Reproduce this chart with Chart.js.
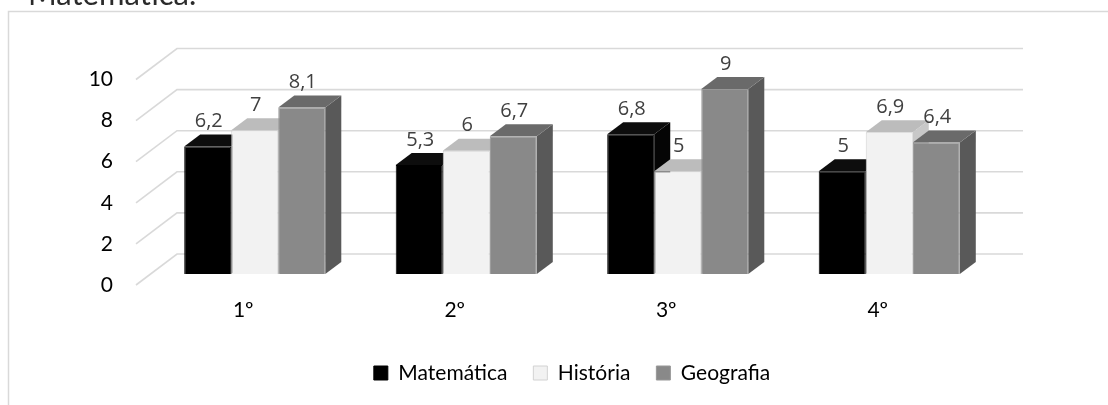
<!DOCTYPE html>
<html>
<head>
<meta charset="utf-8">
<script src="https://cdn.jsdelivr.net/npm/chart.js@4.4.1/dist/chart.umd.min.js"></script>
<style>
  html, body { margin: 0; padding: 0; background: #ffffff; overflow: hidden; }
  #wrap { position: relative; width: 1108px; height: 405px; }
  canvas { display: block; }
</style>
</head>
<body>
<div id="wrap"><canvas id="c" width="1108" height="405"></canvas></div>
<script>
// Notas por bimestre
const categories = ['1º', '2º', '3º', '4º'];
const matematica = [6.2, 5.3, 6.8, 5];
const historia   = [7, 6, 5, 6.9];
const geografia  = [8.1, 6.7, 9, 6.4];
const seriesNames = ['Matemática', 'História', 'Geografia'];
const yTicks = [0, 2, 4, 6, 8, 10];
const headingText = 'Matemática.';

// Oblique 3D projection offsets (pixels)
const BAR_DEPTH = { dx: 16, dy: -12 };   // thickness of each column
const WALL = { dx: 28, dy: -20 };        // back wall relative to column fronts
const FRONT = { dx: -13, dy: 11 };       // front edge of the floor

const faceColors = [
  { front: '#000000', border: '#000000', top: '#0d0d0d', side: '#050505' },
  { front: '#f2f2f2', border: '#d2d2d2', top: '#bcbcbc', side: '#c8c8c8' },
  { front: '#898989', border: '#979797', top: '#6a6a6a', side: '#595959' }
];

const FONT_MAIN = 'Lato, "Liberation Sans", sans-serif';
const FONT_LABEL = '"Open Sans", "DejaVu Sans", sans-serif';

function fmt(v) { return String(v).replace('.', ','); }

function poly(ctx, pts, fill) {
  ctx.beginPath();
  ctx.moveTo(pts[0][0], pts[0][1]);
  for (let i = 1; i < pts.length; i++) ctx.lineTo(pts[i][0], pts[i][1]);
  ctx.closePath();
  ctx.fillStyle = fill;
  ctx.fill();
}

const framePlugin = {
  id: 'frame',
  beforeDraw(chart) {
    const ctx = chart.ctx;
    ctx.save();
    ctx.fillStyle = '#ffffff';
    ctx.fillRect(0, 0, chart.width, chart.height);
    // heading text from the page above the chart
    ctx.font = '31px ' + FONT_MAIN;
    ctx.fillStyle = '#2b2b2b';
    ctx.textBaseline = 'alphabetic';
    ctx.textAlign = 'left';
    ctx.fillText(headingText, 28, 5);
    // chart border
    ctx.strokeStyle = '#d9d9d9';
    ctx.lineWidth = 1.5;
    ctx.beginPath();
    ctx.moveTo(8.5, chart.height + 2);
    ctx.lineTo(8.5, 11.5);
    ctx.lineTo(chart.width + 2, 11.5);
    ctx.stroke();
    ctx.restore();
  }
};

const bars3dPlugin = {
  id: 'bars3d',
  beforeDatasetsDraw(chart) {
    const ctx = chart.ctx;
    const yScale = chart.scales.y;
    const area = chart.chartArea;
    ctx.save();
    // back wall grid and the slanted side-wall lines
    ctx.strokeStyle = '#d9d9d9';
    ctx.lineWidth = 1.6;
    yTicks.forEach(v => {
      const y = yScale.getPixelForValue(v);
      const bx0 = area.left + WALL.dx, by = y + WALL.dy;
      const bx1 = area.right + WALL.dx;
      ctx.beginPath();
      ctx.moveTo(area.left + FRONT.dx, y + FRONT.dy);
      ctx.lineTo(bx0, by);
      ctx.lineTo(bx1, by);
      ctx.stroke();
    });
    // top and side faces, left to right within each category
    const n = chart.data.labels.length;
    for (let i = 0; i < n; i++) {
      chart.data.datasets.forEach((ds, d) => {
        const bar = chart.getDatasetMeta(d).data[i];
        const p = bar.getProps(['x', 'y', 'base', 'width'], true);
        const l = p.x - p.width / 2, r = p.x + p.width / 2;
        const c = faceColors[d];
        poly(ctx, [[r, p.y], [r + BAR_DEPTH.dx, p.y + BAR_DEPTH.dy],
                   [r + BAR_DEPTH.dx, p.base + BAR_DEPTH.dy], [r, p.base]], c.side);
        poly(ctx, [[l, p.y], [l + BAR_DEPTH.dx, p.y + BAR_DEPTH.dy],
                   [r + BAR_DEPTH.dx, p.y + BAR_DEPTH.dy], [r, p.y]], c.top);
      });
    }
    ctx.restore();
  },
  afterDatasetsDraw(chart) {
    const ctx = chart.ctx;
    ctx.save();
    ctx.font = '20px ' + FONT_LABEL;
    ctx.fillStyle = '#404040';
    ctx.textAlign = 'center';
    ctx.textBaseline = 'middle';
    chart.data.datasets.forEach((ds, d) => {
      chart.getDatasetMeta(d).data.forEach((bar, i) => {
        const p = bar.getProps(['x', 'y'], true);
        ctx.fillText(fmt(ds.data[i]), p.x + 1, p.y - 25);
      });
    });
    ctx.restore();
  }
};

function makeDataset(label, data, d) {
  return {
    label: label,
    data: data,
    backgroundColor: faceColors[d].front,
    borderColor: faceColors[d].border,
    borderWidth: 1,
    categoryPercentage: 0.667,
    barPercentage: 1.0
  };
}

function build() {
  new Chart(document.getElementById('c'), {
    type: 'bar',
    data: {
      labels: categories,
      datasets: [
        makeDataset(seriesNames[0], matematica, 0),
        makeDataset(seriesNames[1], historia, 1),
        makeDataset(seriesNames[2], geografia, 2)
      ]
    },
    options: {
      responsive: false,
      animation: false,
      devicePixelRatio: 1,
      layout: { padding: { left: 0, right: 113, top: 68.5, bottom: 11.5 } },
      scales: {
        x: {
          grid: { display: false, drawTicks: false },
          border: { display: false },
          ticks: {
            font: { family: FONT_MAIN, size: 21 },
            color: '#000000',
            padding: 24,
            labelOffset: -11.5,
            maxRotation: 0
          },
          afterFit(scale) { scale.height = 62.5; }
        },
        y: {
          min: 0,
          max: 10,
          grid: { display: false, drawTicks: false },
          border: { display: false },
          ticks: {
            stepSize: 2,
            font: { family: FONT_MAIN, size: 21 },
            color: '#000000',
            padding: 36,
            labelOffset: 11
          },
          afterFit(scale) { scale.width = 149; }
        }
      },
      plugins: {
        tooltip: { enabled: false },
        legend: {
          position: 'bottom',
          fullSize: false,
          labels: {
            boxWidth: 14,
            boxHeight: 14,
            padding: 26,
            color: '#000000',
            font: { family: FONT_MAIN, size: 21 }
          }
        }
      }
    },
    plugins: [framePlugin, bars3dPlugin]
  });
}

if (document.fonts && document.fonts.load) {
  Promise.all([
    document.fonts.load('21px Lato'),
    document.fonts.load('20px "Open Sans"')
  ]).then(build, build);
} else {
  build();
}
</script>
</body>
</html>
